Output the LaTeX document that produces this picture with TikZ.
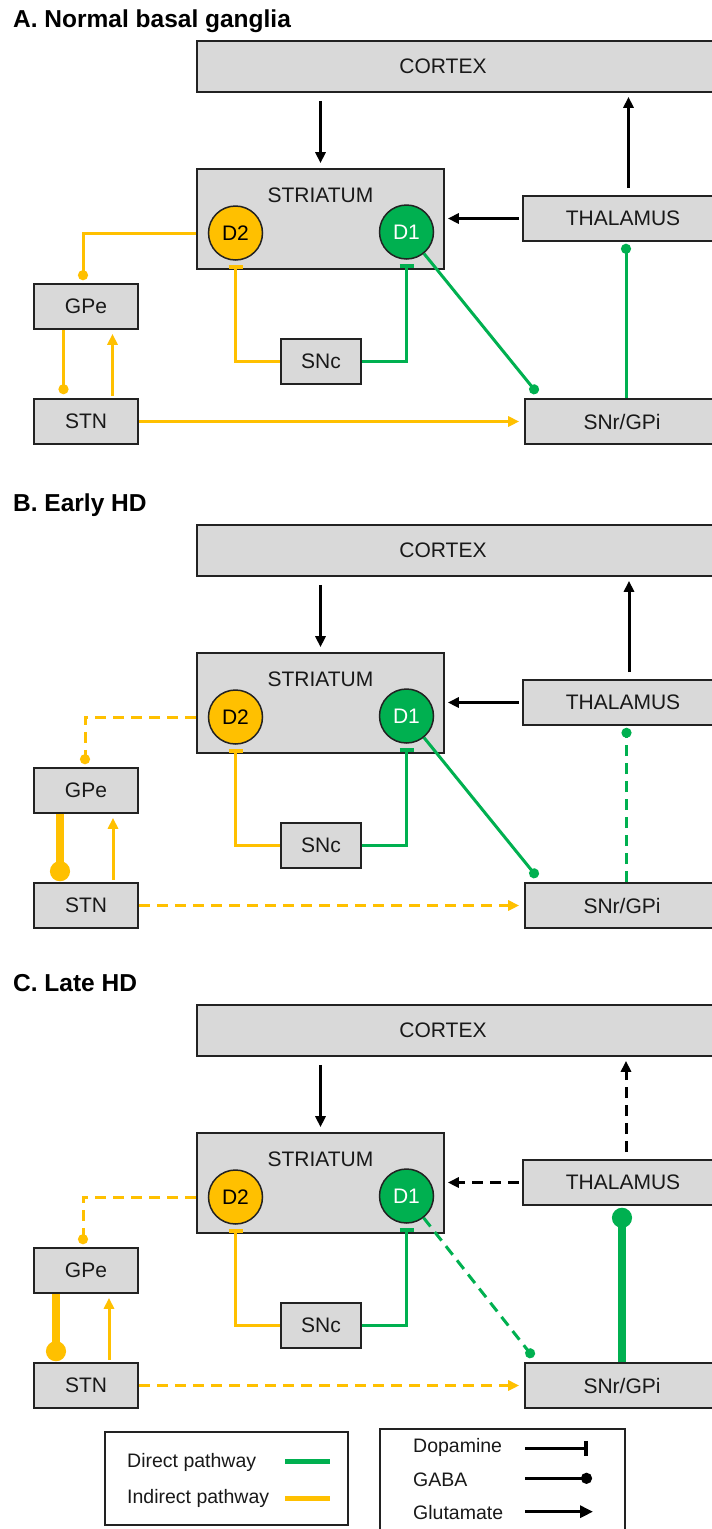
\documentclass[tikz,border=0pt]{standalone}
\usepackage{fontspec}
\setmainfont{Liberation Sans}
\usetikzlibrary{arrows.meta,calc}
\definecolor{ylw}{HTML}{FFC000}
\definecolor{grn}{HTML}{00B050}
\definecolor{boxgray}{HTML}{D9D9D9}
\definecolor{edgec}{HTML}{222222}
\newcommand\nodefont{\fontsize{21}{25}\selectfont}
\newcommand\legfont{\fontsize{19.5}{23}\selectfont}
\newcommand\ttlfont{\fontsize{24.5}{29}\selectfont\bfseries}
\tikzset{
 box/.style={draw=edgec, line width=1.6pt, fill=boxgray, inner sep=0pt, font=\nodefont, text=black!90},
 rcp/.style={circle, draw=edgec, line width=1.5pt, inner sep=0pt, minimum size=54pt, font=\nodefont},
 legbox/.style={draw=edgec, line width=1.6pt, fill=white, inner sep=0pt},
 legtext/.style={anchor=base west, inner sep=0pt, font=\legfont, text=black!90},
 glu/.style={-{Triangle[length=11pt,width=10pt]}},
 gaba/.style={-{Circle[length=10pt]}},
 gababig/.style={-{Circle[length=20pt]}},
 dopa/.style={-{Bar[width=14pt,line width=4pt]}},
 blk/.style={draw=black, line width=3pt},
 dirp/.style={draw=grn, line width=3pt},
 indp/.style={draw=ylw, line width=3pt},
 fat/.style={line width=8pt},
 dsh/.style={dash pattern=on 11pt off 7pt},
 ttl/.style={anchor=base west, font=\ttlfont, inner sep=0pt},
}
\newcommand\panel[3]{%
\begin{scope}[shift={(0,#2)}]
\node[ttl] (title#1) at (13,27) {#3};
\node[box, minimum width=543pt, minimum height=51pt,
  label={[xshift=-25.5pt, font=\nodefont, text=black!90]center:CORTEX}] (cortex#1) at (468.5,66.5) {};
\node[box, minimum width=247pt, minimum height=100pt,
  label={[anchor=center, yshift=-27pt, font=\nodefont, text=black!90]north:STRIATUM}] (str#1) at (320.5,219) {};
\node[rcp, fill=ylw] (dtwo#1) at (235.5,233) {D2};
\node[rcp, fill=grn, text=white] (done#1) at (406.5,232) {D1};
\node[box, minimum width=200pt, minimum height=45pt] (thal#1) at (623,218.5) {THALAMUS};
\node[box, minimum width=104pt, minimum height=45pt] (gpe#1) at (86,306.5) {GPe};
\node[box, minimum width=80pt, minimum height=45pt] (snc#1) at (321,361.5) {SNc};
\node[box, minimum width=104pt, minimum height=45pt] (stn#1) at (86,421.5) {STN};
\node[box, minimum width=194pt, minimum height=45pt] (snr#1) at (622,421.5) {SNr/GPi};
\end{scope}}
\begin{document}
\begin{tikzpicture}[x=1pt,y=-1pt]
\path[use as bounding box, fill=white] (0,0) rectangle (712,1529);
\panel{A}{0}{A. Normal basal ganglia}
\panel{B}{484}{B. Early HD}
\panel{C}{964}{C. Late HD}

% ---------- Panel A ----------
\draw[blk,glu,shorten <=8pt,shorten >=5pt] (cortexA.south -| strA.north) -- (strA.north);
\draw[blk,glu,shorten <=7pt,shorten >=4pt] ([xshift=5.5pt]thalA.north) -- ([xshift=5.5pt]thalA.north |- cortexA.south);
\draw[blk,glu,shorten <=3.5pt,shorten >=3pt] (thalA.west) -- (thalA.west -| strA.east);
\draw[indp,gaba] (strA.west |- dtwoA.center) -| ([xshift=-3pt,yshift=3pt]gpeA.north);
\draw[indp,gaba] ([xshift=-22.5pt]gpeA.south) -- ([xshift=-22.5pt,yshift=4pt]stnA.north);
\draw[indp,glu,shorten <=2pt,shorten >=4pt] ([xshift=26.5pt]stnA.north) -- ([xshift=26.5pt]gpeA.south);
\draw[indp,glu,shorten >=5pt] (stnA.east) -- (snrA.west);
\draw[dirp,gaba] (doneA) -- ([xshift=13pt,yshift=5pt]snrA.north west);
\draw[dirp,gaba] ([xshift=4pt]snrA.north) -- ([xshift=4pt,yshift=-2pt]snrA.north |- thalA.south);
\draw[indp,dopa] (sncA.west) -| ([yshift=-4pt]dtwoA.south);
\draw[dirp,dopa] (sncA.east) -| ([yshift=-4pt]doneA.south);

% ---------- Panel B ----------
\draw[blk,glu,shorten <=8pt,shorten >=5pt] (cortexB.south -| strB.north) -- (strB.north);
\draw[blk,glu,shorten <=7pt,shorten >=4pt] ([xshift=6pt]thalB.north) -- ([xshift=6pt]thalB.north |- cortexB.south);
\draw[blk,glu,shorten <=3.5pt,shorten >=3pt] (thalB.west) -- (thalB.west -| strB.east);
\draw[indp,gaba,dsh] (strB.west |- dtwoB.center) -| ([xshift=-1pt,yshift=3pt]gpeB.north);
\draw[indp,fat,gababig] ([xshift=-26pt]gpeB.south) -- ([xshift=-26pt,yshift=1pt]stnB.north);
\draw[indp,glu,shorten <=2pt,shorten >=4pt] ([xshift=27pt]stnB.north) -- ([xshift=27pt]gpeB.south);
\draw[indp,glu,dsh,shorten >=5pt] (stnB.east) -- (snrB.west);
\draw[dirp,gaba] (doneB) -- ([xshift=13pt,yshift=5pt]snrB.north west);
\draw[dirp,gaba,dsh] ([xshift=4.5pt]snrB.north) -- ([xshift=4.5pt,yshift=-2pt]snrB.north |- thalB.south);
\draw[indp,dopa] (sncB.west) -| ([yshift=-4pt]dtwoB.south);
\draw[dirp,dopa] (sncB.east) -| ([yshift=-4pt]doneB.south);

% ---------- Panel C ----------
\draw[blk,glu,shorten <=8pt,shorten >=5pt] (cortexC.south -| strC.north) -- (strC.north);
\draw[blk,glu,dsh,shorten <=7pt,shorten >=4pt] ([xshift=3pt]thalC.north) -- ([xshift=3pt]thalC.north |- cortexC.south);
\draw[blk,glu,dsh,shorten <=3.5pt,shorten >=3pt] (thalC.west) -- (thalC.west -| strC.east);
\draw[indp,gaba,dsh] (strC.west |- dtwoC.center) -| ([xshift=-3pt,yshift=3pt]gpeC.north);
\draw[indp,fat,gababig] ([xshift=-30pt]gpeC.south) -- ([xshift=-30pt,yshift=1pt]stnC.north);
\draw[indp,glu,shorten <=2pt,shorten >=4pt] ([xshift=23pt]stnC.north) -- ([xshift=23pt]gpeC.south);
\draw[indp,glu,dsh,shorten >=5pt] (stnC.east) -- (snrC.west);
\draw[dirp,gaba,dsh] (doneC) -- ([xshift=9pt,yshift=5pt]snrC.north west);
\draw[dirp,fat,gababig] (snrC.north) -- ([yshift=-2pt]snrC.north |- thalC.south);
\draw[indp,dopa] (sncC.west) -| ([yshift=-4pt]dtwoC.south);
\draw[dirp,dopa] (sncC.east) -| ([yshift=-4pt]doneC.south);

% ---------- Legend ----------
\node[legbox, minimum width=243pt, minimum height=93pt] (legL) at (226.5,1478.5) {};
\node[legtext] (ldir) at (127,1467.5) {Direct pathway};
\node[legtext] (lind) at (127,1503) {Indirect pathway};
\coordinate (ga) at (285,1461.7); \coordinate (gb) at (330,1461.7);
\coordinate (ya) at (285,1498.3); \coordinate (yb) at (330,1498.3);
\draw[grn, line width=4.5pt] (ga) -- (gb);
\draw[ylw, line width=4.5pt] (ya) -- (yb);

\node[legbox, minimum width=245pt, minimum height=125pt, anchor=north west] (legR) at (379,1428) {};
\node[legtext] (ldop) at (413,1452.5) {Dopamine};
\node[legtext] (lgab) at (413,1486) {GABA};
\node[legtext] (lglu) at (413,1519) {Glutamate};
\coordinate (da) at (525,1448.3); \coordinate (db) at (588,1448.3);
\coordinate (ba) at (525,1478.3); \coordinate (bb) at (592,1478.3);
\coordinate (ua) at (525,1511.7); \coordinate (ub) at (593,1511.7);
\draw[black, line width=3.5pt, -{Bar[width=15pt,line width=4pt]}] (da) -- (db);
\draw[black, line width=3.5pt, -{Circle[length=11pt]}] (ba) -- (bb);
\draw[black, line width=3.5pt, -{Triangle[length=13pt,width=12pt]}] (ua) -- (ub);
\end{tikzpicture}
\end{document}
